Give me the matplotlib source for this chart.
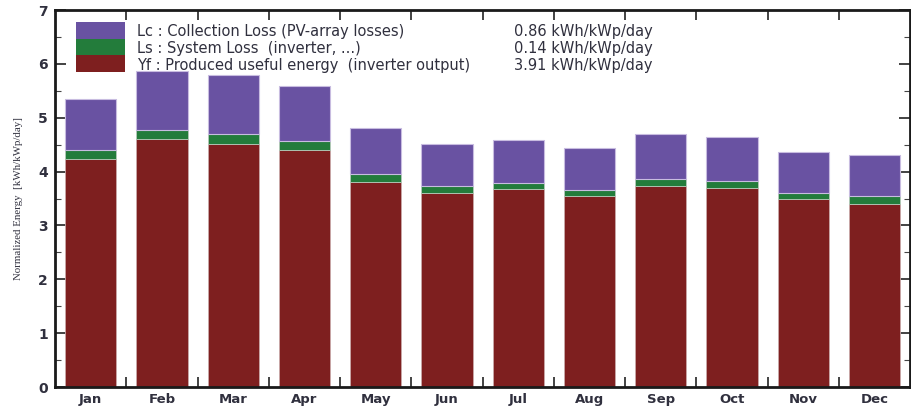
import numpy as np
import matplotlib
matplotlib.use('Agg')
import matplotlib.pyplot as plt
from matplotlib.patches import Rectangle
from matplotlib.ticker import MultipleLocator, FixedLocator, NullFormatter

# monthly normalized energy, kWh/kWp/day
months = ['Jan', 'Feb', 'Mar', 'Apr', 'May', 'Jun', 'Jul', 'Aug', 'Sep', 'Oct', 'Nov', 'Dec']
yf = [4.23, 4.60, 4.52, 4.40, 3.80, 3.60, 3.67, 3.54, 3.73, 3.69, 3.49, 3.40]
ls = [0.17, 0.17, 0.17, 0.16, 0.15, 0.14, 0.11, 0.12, 0.14, 0.13, 0.11, 0.14]
lc = [0.95, 1.10, 1.10, 1.02, 0.86, 0.78, 0.80, 0.78, 0.82, 0.83, 0.76, 0.76]

legend_labels = ['Lc : Collection Loss (PV-array losses)',
                 'Ls : System Loss  (inverter, ...)',
                 'Yf : Produced useful energy  (inverter output)']
legend_values = ['0.86 kWh/kWp/day', '0.14 kWh/kWp/day', '3.91 kWh/kWp/day']

col_yf = '#7e1f1f'
col_ls = '#237c3b'
col_lc = '#6952a2'
txt_col = '#30303e'

plt.rcParams['font.family'] = ['DejaVu Sans']

fig = plt.figure(figsize=(9.12, 4.07), dpi=100)
ax = fig.add_axes([0.0603, 0.0491, 0.9377, 0.9263])

x = np.arange(len(months)) + 0.5
yf = np.array(yf)
ls = np.array(ls)
lc = np.array(lc)
w = 0.72
ax.bar(x, yf, w, color=col_yf, edgecolor='#c9a9a9', linewidth=0.6, zorder=2)
ax.bar(x, ls, w, bottom=yf, color=col_ls, edgecolor='#b5c9b9', linewidth=0.6, zorder=2)
ax.bar(x, lc, w, bottom=yf + ls, color=col_lc, edgecolor='#c8bce0', linewidth=0.8, zorder=2)

ax.set_xlim(0, 12)
ax.set_ylim(0, 7)

# ticks at month boundaries, labels at bar centres
ax.xaxis.set_major_locator(FixedLocator(np.arange(1, 12)))
ax.xaxis.set_major_formatter(NullFormatter())
ax.xaxis.set_minor_locator(FixedLocator(x))
ax.set_xticklabels(months, minor=True)
ax.tick_params(axis='x', which='major', direction='in', length=7, width=1.2,
               top=True, bottom=True, color='#222222')
ax.tick_params(axis='x', which='minor', length=0, pad=4, labelsize=9.5,
               labelcolor=txt_col)

ax.yaxis.set_major_locator(MultipleLocator(1))
ax.yaxis.set_minor_locator(MultipleLocator(0.5))
ax.tick_params(axis='y', which='major', direction='in', length=8, width=1.2,
               left=True, right=True, labelsize=10, labelcolor=txt_col, pad=5,
               color='#222222')
ax.tick_params(axis='y', which='minor', direction='in', length=4, width=0.8,
               left=True, right=True, color='#444444')
for lab in ax.get_yticklabels() + ax.get_xticklabels(minor=True):
    lab.set_fontweight('bold')

for side in ['left', 'bottom', 'top', 'right']:
    ax.spines[side].set_linewidth(2)
    ax.spines[side].set_color('#1a1a1a')

ax.set_ylabel('Normalized Energy  [kWh/kWp/day]', family=['Liberation Serif'],
              fontsize=7.8, color=txt_col, labelpad=11)

# legend block: stacked colour swatches plus labels and annual values
sw_x, sw_w, sw_h, sw_top = 0.0246, 0.0573, 0.0443, 0.968
row_y = [0.942, 0.897, 0.853]
for i, c in enumerate([col_lc, col_ls, col_yf]):
    ax.add_patch(Rectangle((sw_x, sw_top - (i + 1) * sw_h), sw_w, sw_h,
                           transform=ax.transAxes, facecolor=c, edgecolor='none',
                           zorder=3))
    ax.text(0.096, row_y[i], legend_labels[i], transform=ax.transAxes,
            fontsize=10.5, color=txt_col, va='center', ha='left', zorder=3)
    ax.text(0.537, row_y[i], legend_values[i], transform=ax.transAxes,
            fontsize=10.5, color=txt_col, va='center', ha='left', zorder=3)

fig.savefig('out.png', dpi=100, facecolor='white')
